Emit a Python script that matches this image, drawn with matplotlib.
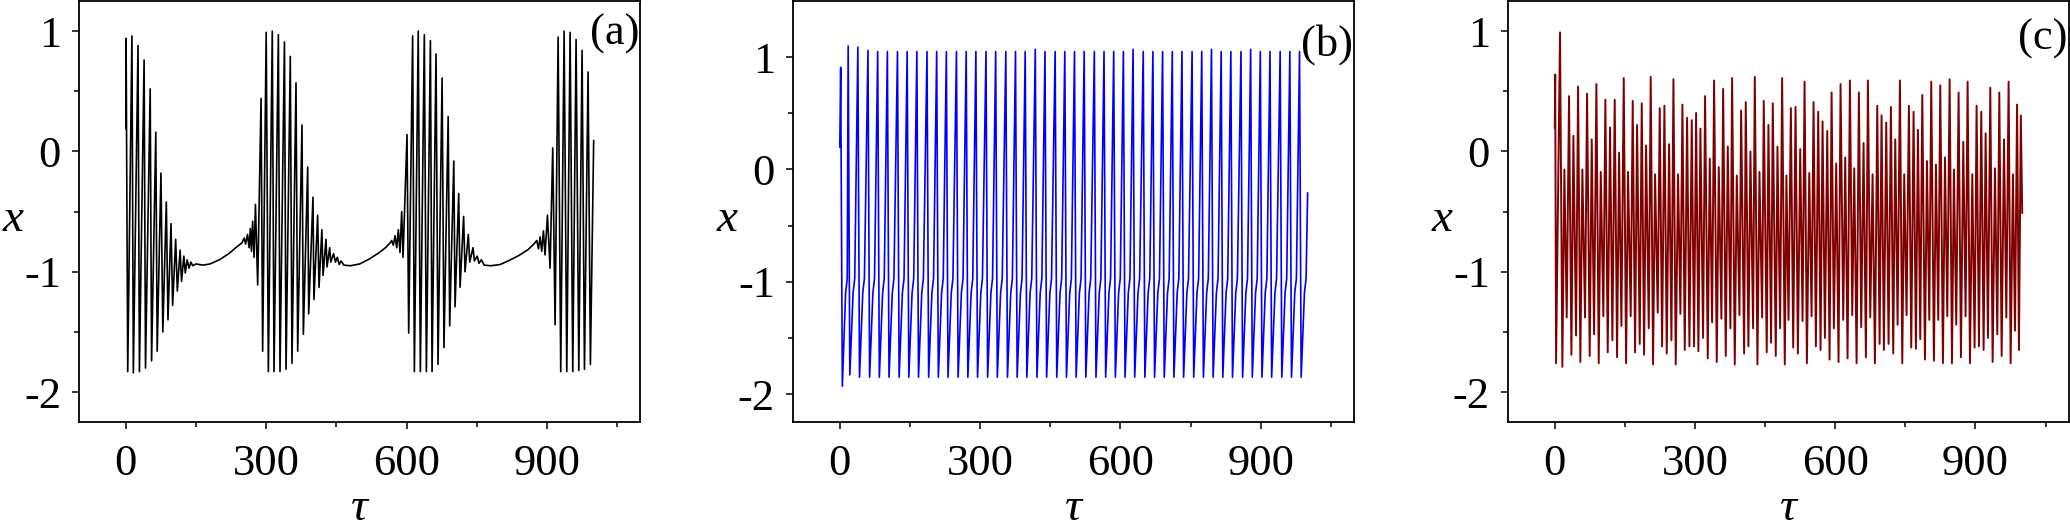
import numpy as np
import matplotlib
matplotlib.use("Agg")
import matplotlib.pyplot as plt

plt.rcParams["font.family"] = ["Liberation Serif", "DejaVu Serif"]
plt.rcParams["axes.unicode_minus"] = False

# ---- panel (a): bursting, extrema + slow curve ----
a_burst1_t = [0, 0.5, 4, 13, 16, 26, 29, 39, 42, 52, 55, 64, 67, 75, 79, 86.5, 90, 96.5,
              100, 106.5, 110, 116, 119, 124, 127, 131, 135, 139, 143, 150, 165, 180,
              200, 220, 235, 245]
a_burst1_x = [0.19, 0.94, -1.83, 0.96, -1.84, 0.88, -1.83, 0.76, -1.80, 0.52, -1.74, 0.16,
              -1.66, -0.18, -1.50, -0.42, -1.40, -0.60, -1.28, -0.73, -1.16, -0.82, -1.08,
              -0.87, -1.01, -0.90, -0.97, -0.92, -0.95, -0.935, -0.945, -0.935, -0.90,
              -0.85, -0.80, -0.77]
a_burst2_t = [248, 253, 256, 260, 263.5, 266, 268.5, 271, 274, 277, 281.8, 289, 292.4, 300,
              304.6, 313, 316.7, 326, 329.5, 339, 342.4, 351.5, 355.1, 363.7, 367.3, 376.5,
              379.4, 388.7, 390.8, 400, 402, 410, 412.9, 419, 421.5, 427.8, 430, 435.7,
              438, 444, 448, 452, 456, 460, 466, 480, 500, 520, 540, 555, 565]
a_burst2_x = [-0.76, -0.72, -0.77, -0.69, -0.80, -0.64, -0.83, -0.58, -0.88, -0.44, -1.11,
              0.44, -1.66, 0.99, -1.83, 1.00, -1.83, 0.97, -1.83, 0.91, -1.81, 0.79, -1.76,
              0.57, -1.66, 0.22, -1.52, -0.13, -1.35, -0.38, -1.23, -0.53, -1.13, -0.65,
              -1.03, -0.73, -0.96, -0.80, -0.92, -0.85, -0.92, -0.88, -0.94, -0.91, -0.945,
              -0.95, -0.935, -0.895, -0.845, -0.80, -0.76]
a_burst3_t = [568.3, 571.8, 575.4, 579, 582.5, 586, 589.6, 592.5, 601, 604.6, 613, 616.7,
              625, 629.5, 638, 642.4, 651, 654.5, 663, 667.3, 676, 680, 689, 692.2, 701,
              703.7, 711.5, 714.4, 722, 725, 732, 735, 742, 745, 751, 755, 760, 766, 780,
              800, 820, 840, 860, 872]
a_burst3_x = [-0.74, -0.78, -0.70, -0.80, -0.65, -0.84, -0.50, -0.88, 0.14, -1.51, 0.96,
              -1.83, 1.00, -1.83, 0.97, -1.83, 0.92, -1.83, 0.81, -1.77, 0.61, -1.63, 0.29,
              -1.45, -0.08, -1.29, -0.35, -1.13, -0.54, -1.00, -0.69, -0.92, -0.80, -0.91,
              -0.87, -0.93, -0.90, -0.945, -0.95, -0.94, -0.905, -0.865, -0.815, -0.77]
a_burst4_t = [878.4, 882, 885.5, 889, 892.6, 896, 901.2, 906.8, 912.5, 917.5, 924, 929.6,
              936.8, 942.5, 949.6, 955.3, 962.4, 968.2, 975.2, 980.3, 988, 993, 1000]
a_burst4_x = [-0.74, -0.81, -0.71, -0.83, -0.66, -0.86, -0.53, -0.97, 0.03, -1.44, 0.95,
              -1.83, 1.00, -1.83, 0.99, -1.83, 0.93, -1.82, 0.84, -1.81, 0.66, -1.77, 0.09]

# ---- panel (b): periodic spikes ----
b_start = (0, 0.20)
b_end = (1000, -0.21)
b_peak_t = [1.9, 17.9, 38.6, 60.2, 81.0, 101.7, 123.3, 144.0, 164.7, 186.4, 207.1, 227.8,
            249.4, 270.2, 290.9, 312.5, 333.2, 354.9, 375.6, 396.3, 417.9, 438.6, 460.3,
            481.0, 501.7, 522.4, 544.1, 564.8, 585.5, 606.2, 626.9, 648.6, 669.3, 690.0,
            710.7, 731.4, 753.0, 773.7, 794.5, 815.2, 835.9, 857.5, 878.2, 898.9, 919.6,
            941.3, 962.0, 982.7]
b_peak_x = [0.91, 1.10, 1.09, 1.06, 1.05, 1.05, 1.05, 1.05, 1.05, 1.05, 1.05, 1.05,
            1.05, 1.05, 1.05, 1.05, 1.05, 1.05, 1.05, 1.05, 1.07, 1.05, 1.05, 1.05,
            1.05, 1.05, 1.05, 1.05, 1.05, 1.05, 1.07, 1.05, 1.05, 1.05, 1.05, 1.05,
            1.05, 1.05, 1.07, 1.05, 1.05, 1.05, 1.07, 1.05, 1.05, 1.05, 1.05, 1.05]
b_trough_x = [-1.93, -1.83, -1.85, -1.85, -1.85, -1.85, -1.85, -1.85, -1.85, -1.85, -1.85,
              -1.85, -1.85, -1.85, -1.85, -1.85, -1.85, -1.85, -1.85, -1.85, -1.85, -1.85,
              -1.85, -1.85, -1.85, -1.85, -1.85, -1.85, -1.85, -1.85, -1.85, -1.85, -1.85,
              -1.85, -1.85, -1.85, -1.85, -1.85, -1.85, -1.85, -1.85, -1.85, -1.85, -1.85,
              -1.85, -1.85, -1.85, -1.85]
# one spike cycle after a peak: trough, knee, bend (delay after peak, value)
b_cycle_dt = [3.5, 10.5, 14.0]
b_cycle_x = [None, -1.10, -0.97]

# ---- panel (c): chaotic oscillation, peaks and troughs ----
c_start = (0, 0.20)
c_end = (1000, -0.51)
c_peak_t = [1.0, 11.3, 20.6, 30.6, 39.9, 49.9, 59.1, 69.1, 79.1, 89.1, 98.4, 108.3, 118.3,
            128.3, 137.6, 147.6, 156.8, 166.8, 176.1, 186.1, 195.4, 205.3, 214.6, 224.6,
            234.6, 244.6, 253.9, 263.8, 273.1, 283.1, 293.1, 302.4, 311.6, 321.6, 331.6,
            340.9, 350.9, 360.2, 370.1, 379.4, 389.4, 398.7, 408.6, 418.6, 427.9, 437.9,
            447.1, 457.1, 466.4, 476.4, 486.4, 495.6,
            505.1, 515.1, 525.1, 534.4, 544.4, 553.6, 563.6, 572.9, 582.9, 592.2, 602.1,
            611.4, 621.4, 631.4, 640.7, 650.6, 660.6, 669.9, 679.9, 689.9, 699.1, 709.1,
            719.1, 728.4, 738.4, 747.6, 757.6, 767.6, 776.9, 786.2, 796.2, 805.4, 815.4,
            824.7, 834.7, 844.7, 853.9, 863.9, 873.9, 883.2, 893.2, 902.4, 912.4, 921.7,
            931.7, 941.7, 951.0, 961.0, 970.9, 980.2, 989.0, 997.0]
c_peak_x = [0.64, 0.99, -0.15, 0.46, 0.13, 0.54, -0.15, 0.48, 0.10, 0.56, -0.17, 0.43, 0.20,
            0.43, -0.01, 0.61, -0.17, 0.42, 0.22, 0.40, 0.05, 0.62, -0.19, 0.36, 0.38, 0.06,
            0.60, -0.19, 0.39, 0.28, 0.26, 0.32, 0.19, 0.46, -0.06, 0.59, -0.13, 0.52, 0.04,
            0.61, -0.20, 0.34, 0.41, 0.00, 0.62, -0.17, 0.42, 0.22, 0.40, 0.04, 0.61, -0.20,
            0.36, 0.37, 0.02, 0.58, -0.18, 0.41, 0.33, 0.25, 0.17, 0.49, -0.10, 0.56, -0.05,
            0.59, -0.14, 0.49, 0.07, 0.59, -0.19, 0.38, 0.30, 0.24, 0.37, 0.10, 0.59, -0.19,
            0.38, 0.33, 0.18, 0.47, -0.08, 0.58, -0.11, 0.55, -0.05, 0.60, -0.15, 0.49, 0.08,
            0.58, -0.19, 0.38, 0.33, 0.15, 0.53, -0.14, 0.49, 0.10, 0.58, -0.19, 0.39, 0.30]
c_trough_t = [2.8, 16.3, 25.6, 35.6, 45.6, 54.8, 64.8, 74.8, 84.1, 94.1, 104.0, 113.3, 123.3,
              133.3, 142.6, 152.6, 162.5, 171.8, 181.8, 191.1, 201.1, 210.3, 220.3, 229.6,
              239.6, 249.6, 258.8, 268.8, 278.1, 288.1, 298.0, 307.3, 317.3, 327.3, 336.6,
              346.6, 356.5, 365.8, 375.8, 385.1, 395.1, 405.1, 414.3, 424.3, 433.6, 443.6,
              453.5, 462.8, 472.8, 482.1, 492.1, 500.1,
              510.1, 520.1, 530.1, 539.4, 549.4, 558.6, 568.6, 577.9, 587.9, 597.1, 607.1,
              617.1, 626.4, 636.4, 645.7, 655.6, 665.6, 674.9, 684.9, 694.9, 704.1, 714.1,
              724.1, 733.4, 743.4, 752.6, 762.6, 772.6, 781.9, 791.9, 801.2, 811.1, 820.4,
              830.4, 839.7, 849.7, 858.9, 868.9, 878.9, 888.2, 898.1, 907.4, 917.4, 926.7,
              936.7, 946.7, 956.0, 966.0, 975.2, 984.5, 993.0]
c_trough_x = [-1.76, -1.79, -1.38, -1.69, -1.53, -1.75, -1.38, -1.70, -1.52, -1.76, -1.37,
              -1.67, -1.57, -1.71, -1.45, -1.76, -1.37, -1.67, -1.60, -1.69, -1.47, -1.77,
              -1.34, -1.62, -1.68, -1.57, -1.77, -1.35, -1.65, -1.62, -1.62, -1.66, -1.55,
              -1.72, -1.42, -1.75, -1.39, -1.70, -1.47, -1.77, -1.36, -1.68, -1.62, -1.47,
              -1.77, -1.38, -1.67, -1.59, -1.70, -1.47, -1.77, -1.40,
              -1.63, -1.68, -1.41, -1.76, -1.37, -1.62, -1.65, -1.55, -1.73, -1.47, -1.75,
              -1.40, -1.72, -1.36, -1.76, -1.46, -1.71, -1.38, -1.76, -1.60, -1.65, -1.60,
              -1.68, -1.44, -1.76, -1.36, -1.63, -1.64, -1.56, -1.73, -1.40, -1.74, -1.40,
              -1.76, -1.37, -1.76, -1.44, -1.71, -1.37, -1.76, -1.63, -1.62, -1.65, -1.55,
              -1.75, -1.52, -1.70, -1.38, -1.76, -1.49, -1.65]

tau_ticks = [0, 300, 600, 900]
tau_minor = [150, 450, 750, 1050]
x_ticks = [-2, -1, 0, 1]
x_minor = [-1.5, -0.5, 0.5]


def build_a():
    t = a_burst1_t + a_burst2_t + a_burst3_t + a_burst4_t
    x = a_burst1_x + a_burst2_x + a_burst3_x + a_burst4_x
    return np.array(t), np.array(x)


def build_b():
    t, x = [b_start[0]], [b_start[1]]
    for tp, xp, xt in zip(b_peak_t, b_peak_x, b_trough_x):
        t.append(tp)
        x.append(xp)
        for dt, v in zip(b_cycle_dt, b_cycle_x):
            t.append(tp + dt)
            x.append(xt if v is None else v)
    t.append(b_end[0])
    x.append(b_end[1])
    return np.array(t), np.array(x)


def build_c():
    pts = sorted(list(zip(c_peak_t, c_peak_x)) + list(zip(c_trough_t, c_trough_x)))
    t = [c_start[0]] + [p[0] for p in pts] + [c_end[0]]
    x = [c_start[1]] + [p[1] for p in pts] + [c_end[1]]
    return np.array(t), np.array(x)


fig = plt.figure(figsize=(20.7, 5.31), dpi=100)
boxes = [
    [0.0382, 0.205, 0.2712, 0.793],
    [0.3831, 0.205, 0.2712, 0.793],
    [0.7285, 0.205, 0.2710, 0.793],
]
series = [build_a(), build_b(), build_c()]
colors = ["#000000", "#0000ff", "#800000"]
widths = [1.2, 1.2, 1.4]
ylims = [(-2.25, 1.25), (-2.25, 1.5), (-2.25, 1.25)]
tags = ["(a)", "(b)", "(c)"]
tag_y = [0.97, 0.945, 0.958]

for box, (t, x), col, lw, yl, tag, ty in zip(boxes, series, colors, widths, ylims, tags, tag_y):
    ax = fig.add_axes(box)
    ax.plot(t, x, color=col, lw=lw)
    ax.set_xlim(-100, 1100)
    ax.set_ylim(*yl)
    ax.set_xticks(tau_ticks)
    ax.set_xticks(tau_minor, minor=True)
    ax.set_yticks(x_ticks)
    ax.set_yticks(x_minor, minor=True)
    ax.tick_params(which="both", direction="out", top=False, right=False, width=1.1)
    ax.tick_params(which="major", length=5, labelsize=32, pad=8)
    ax.tick_params(axis="x", which="major", pad=11)
    ax.tick_params(which="minor", length=3.5)
    for sp in ax.spines.values():
        sp.set_linewidth(1.3)
    ax.set_ylabel("x", fontsize=34, fontstyle="italic", rotation=0, va="center", ha="center")
    ax.yaxis.set_label_coords(-0.118, 0.48)
    # bottom of the tau label sits just above the figure edge
    ax.set_xlabel("τ", fontsize=34, fontstyle="italic", va="bottom")
    ax.xaxis.set_label_coords(0.5, -0.257)
    ax.text(0.998, ty, tag, transform=ax.transAxes, ha="right", va="top", fontsize=32)

fig.savefig("out.png", dpi=100)
